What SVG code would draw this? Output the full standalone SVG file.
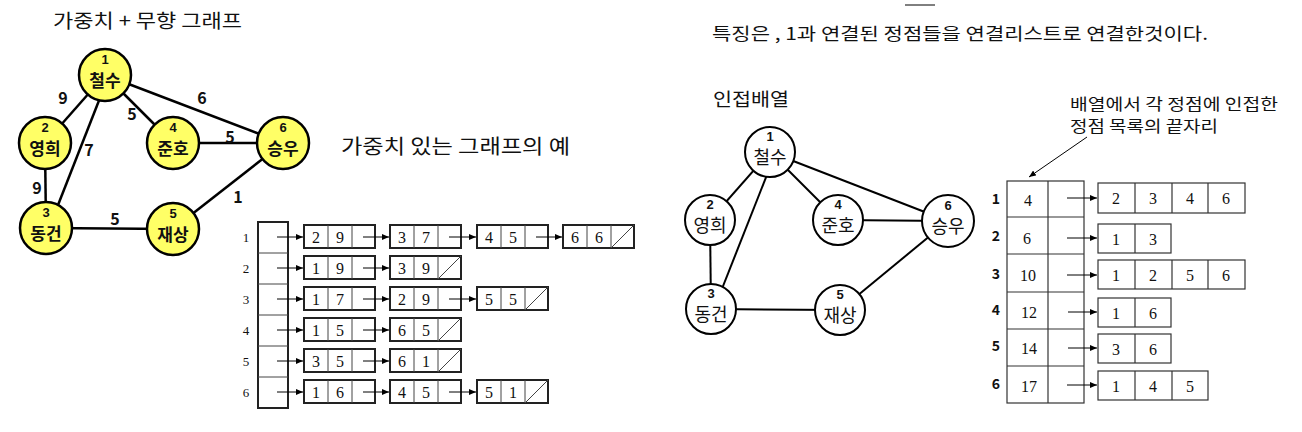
<svg xmlns="http://www.w3.org/2000/svg" xmlns:xlink="http://www.w3.org/1999/xlink" width="1302" height="432" viewBox="0 0 1302 432">
<style>
.t{font-family:"Noto Sans CJK KR","Noto Sans",sans-serif;fill:#111}
.title{font-size:17px}
.b{font-weight:bold}
.ew{font-family:"Noto Sans CJK KR",sans-serif;font-weight:bold;font-size:16px;fill:#111}
.num{font-family:"Liberation Sans",sans-serif;font-weight:bold;font-size:13px;fill:#111}
.nL{font-family:"Noto Sans CJK KR",sans-serif;font-weight:bold;font-size:17px;fill:#111}
.nR{font-family:"Noto Sans CJK KR",sans-serif;font-size:18px;fill:#111}
.sf{font-family:"Liberation Serif",serif;font-size:16px;fill:#111}
.sfs{font-family:"Liberation Serif",serif;font-size:13px;fill:#111}
.eL{stroke:#000;stroke-width:2.5;fill:none}
.eR{stroke:#000;stroke-width:2;fill:none}
.cL{fill:#ffff66;stroke:#000;stroke-width:2.5}
.cR{fill:#fff;stroke:#000;stroke-width:2}
.box{fill:#fff;stroke:#222;stroke-width:2}
.thin{stroke:#444;stroke-width:1;fill:none}
.grid{fill:none;stroke:#333;stroke-width:1.2}
.ar{stroke:#000;stroke-width:1;fill:none;marker-end:url(#ah)}
</style>
<defs>
<marker id="ah" markerUnits="userSpaceOnUse" markerWidth="8" markerHeight="6" refX="7" refY="3" orient="auto">
<path d="M0,0 L7,3 L0,6 Z" fill="#000"/>
</marker>
<g id="n3">
<rect x="0" y="0" width="71" height="23" class="box"/>
<line x1="24" y1="0" x2="24" y2="23" class="thin"/>
<line x1="48" y1="0" x2="48" y2="23" class="thin"/>
</g>
<g id="n3x">
<use xlink:href="#n3"/>
<line x1="48" y1="23" x2="71" y2="0" class="thin"/>
</g>
</defs>

<!-- Titles -->
<text class="t" x="53" y="19" font-size="19" dominant-baseline="central" textLength="189" lengthAdjust="spacingAndGlyphs">가중치 + 무향 그래프</text>
<text class="t" x="341" y="145" font-size="20" dominant-baseline="central" textLength="229" lengthAdjust="spacingAndGlyphs">가중치 있는 그래프의 예</text>
<line x1="905" y1="5" x2="935" y2="5" stroke="#000" stroke-width="1"/>
<text class="t title" x="712" y="32" dominant-baseline="central" textLength="496" lengthAdjust="spacingAndGlyphs">특징은 , 1과 연결된 정점들을 연결리스트로 연결한것이다.</text>
<text class="t" x="713" y="98" font-size="18" dominant-baseline="central" textLength="76" lengthAdjust="spacingAndGlyphs">인접배열</text>
<text class="t" x="1070" y="103" font-size="16" dominant-baseline="central" textLength="208" lengthAdjust="spacingAndGlyphs">배열에서 각 정점에 인접한</text>
<text class="t" x="1070" y="125" font-size="16" dominant-baseline="central" textLength="148" lengthAdjust="spacingAndGlyphs">정점 목록의 끝자리</text>

<!-- Left graph connectors -->
<g id="connectors-left">
<line class="eL" x1="105" y1="75" x2="45" y2="143"/>
<line class="eL" x1="109" y1="75" x2="49" y2="228"/>
<line class="eL" x1="105" y1="75" x2="173" y2="143"/>
<line class="eL" x1="105" y1="75" x2="283" y2="143"/>
<line class="eL" x1="45" y1="143" x2="46" y2="228"/>
<line class="eL" x1="173" y1="143" x2="283" y2="143"/>
<line class="eL" x1="46" y1="228" x2="173" y2="229"/>
<line class="eL" x1="173" y1="229" x2="283" y2="143"/>
<text class="ew" x="63" y="97" text-anchor="middle" dominant-baseline="central">9</text>
<text class="ew" x="132" y="113" text-anchor="middle" dominant-baseline="central">5</text>
<text class="ew" x="89" y="149" text-anchor="middle" dominant-baseline="central">7</text>
<text class="ew" x="202" y="97" text-anchor="middle" dominant-baseline="central">6</text>
<text class="ew" x="230" y="136" text-anchor="middle" dominant-baseline="central">5</text>
<text class="ew" x="37" y="187" text-anchor="middle" dominant-baseline="central">9</text>
<text class="ew" x="115" y="218" text-anchor="middle" dominant-baseline="central">5</text>
<text class="ew" x="238" y="196" text-anchor="middle" dominant-baseline="central">1</text>
</g>

<!-- Left graph nodes -->
<g id="L-node1"><circle class="cL" cx="105" cy="75" r="26"/><text class="num" x="105" y="59" text-anchor="middle" dominant-baseline="central">1</text><text class="nL" x="105" y="79" text-anchor="middle" dominant-baseline="central">철수</text></g>
<g id="L-node2"><circle class="cL" cx="45" cy="143" r="26"/><text class="num" x="45" y="127" text-anchor="middle" dominant-baseline="central">2</text><text class="nL" x="45" y="147" text-anchor="middle" dominant-baseline="central">영희</text></g>
<g id="L-node4"><circle class="cL" cx="173" cy="143" r="26"/><text class="num" x="173" y="127" text-anchor="middle" dominant-baseline="central">4</text><text class="nL" x="173" y="147" text-anchor="middle" dominant-baseline="central">준호</text></g>
<g id="L-node6"><circle class="cL" cx="283" cy="143" r="26"/><text class="num" x="283" y="127" text-anchor="middle" dominant-baseline="central">6</text><text class="nL" x="283" y="147" text-anchor="middle" dominant-baseline="central">승우</text></g>
<g id="L-node3"><circle class="cL" cx="46" cy="228" r="26"/><text class="num" x="46" y="212" text-anchor="middle" dominant-baseline="central">3</text><text class="nL" x="46" y="232" text-anchor="middle" dominant-baseline="central">동건</text></g>
<g id="L-node5"><circle class="cL" cx="173" cy="229" r="26"/><text class="num" x="173" y="213" text-anchor="middle" dominant-baseline="central">5</text><text class="nL" x="173" y="233" text-anchor="middle" dominant-baseline="central">재상</text></g>

<!-- Adjacency list (left) -->
<g id="adj-list">
<rect x="258" y="222" width="30" height="186" class="box" stroke-width="1.5"/>
<line x1="258" y1="253" x2="288" y2="253" class="thin"/>
<line x1="258" y1="284" x2="288" y2="284" class="thin"/>
<line x1="258" y1="315" x2="288" y2="315" class="thin"/>
<line x1="258" y1="346" x2="288" y2="346" class="thin"/>
<line x1="258" y1="377" x2="288" y2="377" class="thin"/>
<g text-anchor="middle" dominant-baseline="central" class="sfs">
<text x="246" y="237">1</text><text x="246" y="268">2</text><text x="246" y="299">3</text><text x="246" y="330">4</text><text x="246" y="361">5</text><text x="246" y="392">6</text>
</g>
<use xlink:href="#n3" x="304" y="225"/><use xlink:href="#n3" x="390" y="225"/><use xlink:href="#n3" x="477" y="225"/><use xlink:href="#n3x" x="563" y="225"/>
<use xlink:href="#n3" x="304" y="256"/><use xlink:href="#n3x" x="390" y="256"/>
<use xlink:href="#n3" x="304" y="287"/><use xlink:href="#n3" x="390" y="287"/><use xlink:href="#n3x" x="477" y="287"/>
<use xlink:href="#n3" x="304" y="318"/><use xlink:href="#n3x" x="390" y="318"/>
<use xlink:href="#n3" x="304" y="349"/><use xlink:href="#n3x" x="390" y="349"/>
<use xlink:href="#n3" x="304" y="380"/><use xlink:href="#n3" x="390" y="380"/><use xlink:href="#n3x" x="477" y="380"/>
<g class="sf" text-anchor="middle" dominant-baseline="central">
<text x="316" y="237">2</text><text x="340" y="237">9</text><text x="402" y="237">3</text><text x="426" y="237">7</text><text x="489" y="237">4</text><text x="513" y="237">5</text><text x="575" y="237">6</text><text x="599" y="237">6</text>
<text x="316" y="268">1</text><text x="340" y="268">9</text><text x="402" y="268">3</text><text x="426" y="268">9</text>
<text x="316" y="299">1</text><text x="340" y="299">7</text><text x="402" y="299">2</text><text x="426" y="299">9</text><text x="489" y="299">5</text><text x="513" y="299">5</text>
<text x="316" y="330">1</text><text x="340" y="330">5</text><text x="402" y="330">6</text><text x="426" y="330">5</text>
<text x="316" y="361">3</text><text x="340" y="361">5</text><text x="402" y="361">6</text><text x="426" y="361">1</text>
<text x="316" y="392">1</text><text x="340" y="392">6</text><text x="402" y="392">4</text><text x="426" y="392">5</text><text x="489" y="392">5</text><text x="513" y="392">1</text>
</g>
</g>
<g id="connectors-list">
<line class="ar" x1="277" y1="237" x2="303" y2="237"/><line class="ar" x1="363" y1="237" x2="389" y2="237"/><line class="ar" x1="449" y1="237" x2="476" y2="237"/><line class="ar" x1="536" y1="237" x2="562" y2="237"/>
<line class="ar" x1="277" y1="268" x2="303" y2="268"/><line class="ar" x1="363" y1="268" x2="389" y2="268"/>
<line class="ar" x1="277" y1="299" x2="303" y2="299"/><line class="ar" x1="363" y1="299" x2="389" y2="299"/><line class="ar" x1="449" y1="299" x2="476" y2="299"/>
<line class="ar" x1="277" y1="330" x2="303" y2="330"/><line class="ar" x1="363" y1="330" x2="389" y2="330"/>
<line class="ar" x1="277" y1="361" x2="303" y2="361"/><line class="ar" x1="363" y1="361" x2="389" y2="361"/>
<line class="ar" x1="277" y1="392" x2="303" y2="392"/><line class="ar" x1="363" y1="392" x2="389" y2="392"/><line class="ar" x1="449" y1="392" x2="476" y2="392"/>
</g>

<!-- Right graph connectors -->
<g id="connectors-right">
<line class="eR" x1="770" y1="152" x2="710" y2="220"/>
<line class="eR" x1="776" y1="152" x2="714" y2="309"/>
<line class="eR" x1="770" y1="152" x2="838" y2="220"/>
<line class="eR" x1="770" y1="152" x2="948" y2="221"/>
<line class="eR" x1="710" y1="220" x2="711" y2="309" stroke-width="2.5"/>
<line class="eR" x1="838" y1="220" x2="948" y2="221"/>
<line class="eR" x1="711" y1="309" x2="840" y2="310"/>
<line class="eR" x1="840" y1="310" x2="948" y2="221"/>
</g>
<!-- Right graph nodes -->
<g id="R-node1"><circle class="cR" cx="770" cy="152" r="25"/><text class="num" x="770" y="136" text-anchor="middle" dominant-baseline="central">1</text><text class="nR" x="770" y="156" text-anchor="middle" dominant-baseline="central">철수</text></g>
<g id="R-node2"><circle class="cR" cx="710" cy="220" r="25"/><text class="num" x="710" y="204" text-anchor="middle" dominant-baseline="central">2</text><text class="nR" x="710" y="224" text-anchor="middle" dominant-baseline="central">영희</text></g>
<g id="R-node4"><circle class="cR" cx="838" cy="220" r="25"/><text class="num" x="838" y="204" text-anchor="middle" dominant-baseline="central">4</text><text class="nR" x="838" y="224" text-anchor="middle" dominant-baseline="central">준호</text></g>
<g id="R-node6"><circle class="cR" cx="948" cy="221" r="26"/><text class="num" x="948" y="205" text-anchor="middle" dominant-baseline="central">6</text><text class="nR" x="948" y="225" text-anchor="middle" dominant-baseline="central">승우</text></g>
<g id="R-node3"><circle class="cR" cx="711" cy="309" r="25"/><text class="num" x="711" y="293" text-anchor="middle" dominant-baseline="central">3</text><text class="nR" x="711" y="313" text-anchor="middle" dominant-baseline="central">동건</text></g>
<g id="R-node5"><circle class="cR" cx="840" cy="310" r="25"/><text class="num" x="840" y="294" text-anchor="middle" dominant-baseline="central">5</text><text class="nR" x="840" y="314" text-anchor="middle" dominant-baseline="central">재상</text></g>

<!-- Adjacency array (right) -->
<g id="adj-array">
<rect x="1007" y="181" width="77" height="222" class="grid"/>
<line x1="1048" y1="181" x2="1048" y2="403" class="grid"/>
<line x1="1007" y1="217" x2="1084" y2="217" class="grid"/>
<line x1="1007" y1="254" x2="1084" y2="254" class="grid"/>
<line x1="1007" y1="292" x2="1084" y2="292" class="grid"/>
<line x1="1007" y1="329" x2="1084" y2="329" class="grid"/>
<line x1="1007" y1="366" x2="1084" y2="366" class="grid"/>
<g class="t b" font-size="14" text-anchor="middle" dominant-baseline="central">
<text x="996" y="198">1</text><text x="996" y="235">2</text><text x="996" y="273">3</text><text x="996" y="309">4</text><text x="996" y="345">5</text><text x="996" y="383">6</text>
</g>
<g class="sf" text-anchor="middle" dominant-baseline="central">
<text x="1028" y="200">4</text><text x="1027" y="238">6</text><text x="1028" y="275">10</text><text x="1029" y="312">12</text><text x="1029" y="348">14</text><text x="1029" y="386">17</text>
</g>
<rect x="1098" y="183" width="147" height="30" class="grid"/>
<line x1="1135" y1="183" x2="1135" y2="213" class="grid"/><line x1="1172" y1="183" x2="1172" y2="213" class="grid"/><line x1="1208" y1="183" x2="1208" y2="213" class="grid"/>
<rect x="1098" y="224" width="73" height="29" class="grid"/>
<line x1="1135" y1="224" x2="1135" y2="253" class="grid"/>
<rect x="1098" y="260" width="147" height="29" class="grid"/>
<line x1="1135" y1="260" x2="1135" y2="289" class="grid"/><line x1="1172" y1="260" x2="1172" y2="289" class="grid"/><line x1="1208" y1="260" x2="1208" y2="289" class="grid"/>
<rect x="1098" y="298" width="73" height="29" class="grid"/>
<line x1="1135" y1="298" x2="1135" y2="327" class="grid"/>
<rect x="1098" y="334" width="73" height="29" class="grid"/>
<line x1="1135" y1="334" x2="1135" y2="363" class="grid"/>
<rect x="1098" y="371" width="110" height="29" class="grid"/>
<line x1="1135" y1="371" x2="1135" y2="400" class="grid"/><line x1="1172" y1="371" x2="1172" y2="400" class="grid"/>
<g class="sf" text-anchor="middle" dominant-baseline="central">
<text x="1116" y="198">2</text><text x="1153" y="198">3</text><text x="1190" y="198">4</text><text x="1226" y="198">6</text>
<text x="1116" y="239">1</text><text x="1153" y="239">3</text>
<text x="1116" y="275">1</text><text x="1153" y="275">2</text><text x="1190" y="275">5</text><text x="1226" y="275">6</text>
<text x="1116" y="313">1</text><text x="1153" y="313">6</text>
<text x="1116" y="349">3</text><text x="1153" y="349">6</text>
<text x="1116" y="386">1</text><text x="1153" y="386">4</text><text x="1190" y="386">5</text>
</g>
</g>
<g id="connectors-array">
<line class="ar" x1="1067" y1="198" x2="1097" y2="198"/>
<line class="ar" x1="1067" y1="238" x2="1097" y2="238"/>
<line class="ar" x1="1067" y1="275" x2="1097" y2="275"/>
<line class="ar" x1="1068" y1="312" x2="1097" y2="312"/>
<line class="ar" x1="1068" y1="348" x2="1097" y2="348"/>
<line class="ar" x1="1067" y1="385" x2="1097" y2="385"/>
<line class="ar" x1="1087" y1="137" x2="1029" y2="177"/>
</g>
</svg>
